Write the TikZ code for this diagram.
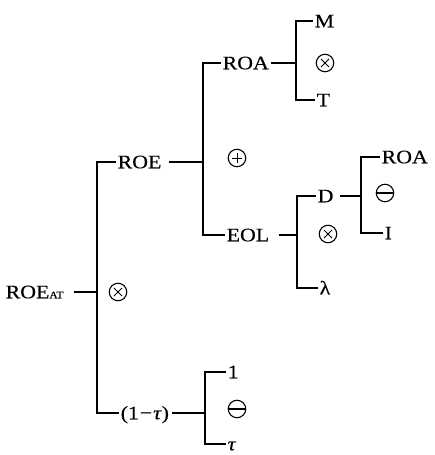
\documentclass[tikz,border=0pt]{standalone}
\usepackage{fontspec}
\setmainfont{Liberation Serif}[FakeStretch=1.15,FakeBold=0.4]
\begin{document}
\begin{tikzpicture}[x=1pt,y=-1pt,line width=1.4pt,
  lbl/.style={inner sep=0pt,anchor=west,text height=12.5pt,text depth=0pt,font=\fontsize{19}{22}\selectfont},
  op/.style={circle,draw,line width=1.1pt,minimum size=17.5pt,inner sep=0pt},
  optimes/.style={op,path picture={\draw[line width=1pt] ([shift={(-4pt,-4pt)}]path picture bounding box.center) -- ++(8pt,8pt);
      \draw[line width=1pt] ([shift={(-4pt,4pt)}]path picture bounding box.center) -- ++(8pt,-8pt);}},
  opplus/.style={op,path picture={\draw[line width=1pt] ([xshift=-5pt]path picture bounding box.center) -- ++(10pt,0pt);
      \draw[line width=1pt] ([yshift=-5pt]path picture bounding box.center) -- ++(0pt,10pt);}},
  opminus/.style={op,path picture={\draw[line width=1.2pt] ([xshift=-9pt]path picture bounding box.center) -- ++(18pt,0pt);}},
  bar/.style={shorten <=1.5pt,shorten >=1.5pt},
]
\useasboundingbox (0,0) rectangle (435,455);
% labels
\node[lbl] (roeat) at (5,292) {ROE{\fontsize{10}{10}\selectfont AT}};
\node[lbl] (roe) at (117,162) {ROE};
\node[lbl] (roaa) at (222,63) {ROA};
\node[lbl] (m) at (314,21) {M};
\node[lbl] (t) at (316,100) {T};
\node[lbl] (eol) at (226,235) {EOL};
\node[lbl] (d) at (317,196) {D};
\node[lbl] (roab) at (381,157) {ROA};
\node[lbl] (i) at (384,233) {I};
\node[lbl] (lam) at (319,288) {λ};
\node[lbl] (omt) at (120,413) {(1\kern1pt−\kern1pt\textit{τ})};
\node[lbl] (one) at (227,372) {1};
\node[lbl] (tau) at (227,444) {\textit{τ}};
% operators
\node[optimes] (o1) at (118,292) {};
\node[opplus] (o2) at (237,158) {};
\node[optimes] (o3) at (325,63) {};
\node[optimes] (o4) at (328,234) {};
\node[opminus] (o5) at (385,193) {};
\node[opminus] (o6) at (237,409) {};
% bar positions
\coordinate (b1) at (97,0);
\coordinate (b2) at (203,0);
\coordinate (b3) at (296,0);
\coordinate (b4) at (297,0);
\coordinate (b5) at (361,0);
\coordinate (b6) at (205,0);
% brackets
\draw[bar] (roe.west) -- (roe.west -| b1) -- (omt.west -| b1) -- (omt.west);
\draw[bar] (roaa.west) -- (roaa.west -| b2) -- (eol.west -| b2) -- (eol.west);
\draw[bar] (m.west) -- (m.west -| b3) -- (t.west -| b3) -- (t.west);
\draw[bar] (d.west) -- (d.west -| b4) -- (lam.west -| b4) -- (lam.west);
\draw[bar] (roab.west) -- (roab.west -| b5) -- (i.west -| b5) -- (i.west);
\draw[bar] (one.west) -- (one.west -| b6) -- (tau.west -| b6) -- (tau.west);
% parent dashes
\draw[shorten <=10pt] (roeat.east) -- (roeat.east -| b1);
\draw[shorten <=7pt] (roe.east) -- (roe.east -| b2);
\draw[shorten <=1.5pt] (roaa.east) -- (roaa.east -| b3);
\draw[shorten <=9pt] (eol.east) -- (eol.east -| b4);
\draw[shorten <=6pt] (d.east) -- (d.east -| b5);
\draw[shorten <=2.5pt] (omt.east) -- (omt.east -| b6);
\end{tikzpicture}
\end{document}
